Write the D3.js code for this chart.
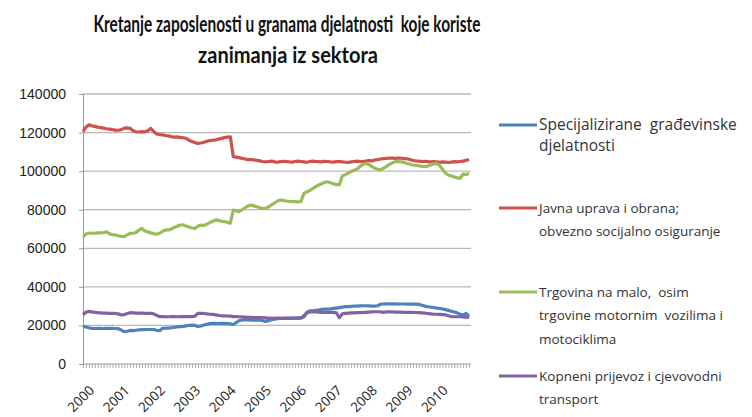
<!DOCTYPE html>
<html>
<head>
<meta charset="utf-8">
<script src="https://cdn.jsdelivr.net/npm/d3@7.9.0/dist/d3.min.js"></script>
<style>
  body { margin: 0; background: #fff; }
  svg { display: block; font-family: "Open Sans", sans-serif; }
</style>
</head>
<body>
<svg width="752" height="417"></svg>
<script>
// monthly values, Jan 2000 - Dec 2010, in thousands of employees
const years = ["2000", "2001", "2002", "2003", "2004", "2005", "2006", "2007", "2008", "2009", "2010"];
const yTicks = [0, 20000, 40000, 60000, 80000, 100000, 120000, 140000];

const specijalizirane = [
  19.5,19.2,18.8,18.5,18.4,18.5,18.5,18.4,18.5,18.5,18.5,18.4,
  18.3,17.6,16.8,17.0,17.4,17.3,17.5,17.7,17.8,17.8,17.9,17.9,
  17.9,17.5,17.3,18.5,18.6,18.6,18.8,19.0,19.3,19.4,19.5,19.8,
  20.0,20.2,20.0,19.5,19.7,20.2,20.6,21.0,21.1,21.1,21.0,21.1,
  21.1,21.0,20.8,20.5,21.5,22.5,22.8,23.0,22.9,22.8,22.8,22.7,
  22.8,22.4,22.0,22.5,23.0,23.3,23.5,23.6,23.7,23.7,23.7,23.8,
  23.8,23.8,23.9,25.0,26.8,27.5,27.6,27.8,28.0,28.3,28.5,28.5,
  28.6,28.8,29.0,29.2,29.5,29.7,29.8,29.9,30.0,30.0,30.1,30.2,
  30.2,30.1,30.0,30.0,30.2,31.0,31.1,31.2,31.2,31.2,31.2,31.1,
  31.1,31.1,31.0,31.0,31.0,31.0,30.9,30.5,30.0,29.7,29.5,29.3,
  29.0,28.8,28.5,28.2,27.8,27.3,27.0,26.5,25.8,25.4,26.3,24.6
];
const javnaUprava = [
  120.5,122.8,124.0,123.5,123.2,122.8,122.6,122.3,122.0,121.8,121.5,121.3,
  121.2,121.5,122.3,122.4,122.2,121.0,120.4,120.3,120.5,120.4,121.0,122.2,
  120.5,119.3,119.0,118.8,118.5,118.3,117.9,117.6,117.8,117.5,117.3,117.0,
  116.0,115.3,114.8,114.4,114.6,115.0,115.5,115.8,116.0,116.2,116.6,117.0,
  117.4,117.6,117.8,107.6,107.3,107.0,106.6,106.3,106.0,106.0,105.8,105.6,
  105.3,105.0,104.8,105.0,105.2,104.8,104.6,104.9,105.1,105.0,104.8,104.7,
  105.0,105.2,105.0,104.8,104.6,105.0,105.2,105.0,104.9,104.8,105.1,105.0,
  104.8,104.7,104.9,105.0,104.8,104.6,104.5,104.8,105.0,105.2,105.0,104.9,
  105.2,105.5,105.3,105.8,106.0,106.3,106.5,106.6,106.8,106.7,106.6,106.8,
  106.7,106.5,106.4,106.0,105.5,105.3,105.2,105.0,105.1,104.9,104.8,105.0,
  104.8,104.6,104.8,104.7,104.5,104.7,104.9,104.8,105.0,105.2,105.6,106.0
];
const trgovina = [
  65.8,67.4,67.8,67.9,67.8,68.0,68.0,68.2,68.5,67.5,67.0,67.0,
  66.5,66.2,66.0,67.0,67.7,67.8,68.2,69.5,70.3,69.0,68.5,68.0,
  67.6,67.3,67.8,68.8,69.5,69.5,70.0,70.8,71.5,72.0,72.2,71.5,
  71.0,70.5,70.3,71.5,72.0,71.8,72.5,73.3,74.0,74.7,74.5,74.0,
  73.8,73.5,73.0,79.8,79.5,79.0,80.0,81.0,82.0,82.4,82.0,81.5,
  81.0,80.7,80.8,81.5,82.5,83.5,84.5,85.0,84.8,84.5,84.3,84.2,
  84.2,84.0,84.3,88.5,89.3,90.0,91.0,92.0,92.8,93.5,94.2,94.5,
  94.0,93.5,93.0,93.0,97.5,98.2,99.0,99.8,100.5,101.0,102.5,103.5,
  104.0,103.5,102.5,101.5,101.0,100.8,101.5,102.5,103.5,104.3,104.9,105.0,
  104.8,104.5,104.0,103.6,103.2,103.0,102.8,102.5,102.3,102.6,103.2,103.8,
  104.0,103.0,101.0,99.0,98.0,97.5,97.0,96.5,96.3,98.5,98.2,98.8
];
const kopneni = [
  25.5,26.8,27.3,27.0,26.8,26.6,26.5,26.4,26.4,26.3,26.3,26.2,
  26.0,25.4,25.6,26.2,26.6,26.5,26.4,26.4,26.4,26.3,26.3,26.3,
  26.0,25.2,24.6,24.6,24.5,24.5,24.6,24.6,24.5,24.6,24.6,24.6,
  24.6,24.6,24.8,26.3,26.3,26.2,26.0,25.8,25.7,25.5,25.2,25.0,
  25.0,24.9,24.8,24.6,24.6,24.5,24.4,24.3,24.2,24.2,24.1,24.1,
  24.1,24.0,23.9,23.8,23.8,23.7,23.8,23.8,23.7,23.8,23.8,23.7,
  23.8,23.8,23.9,24.5,26.5,27.0,27.1,27.0,26.9,26.8,26.8,26.8,
  26.8,26.8,26.5,24.0,26.0,26.3,26.4,26.5,26.5,26.6,26.6,26.7,
  26.8,26.9,27.0,27.1,27.1,27.0,26.8,27.0,27.1,27.0,26.9,26.9,
  26.9,26.8,26.8,26.8,26.8,26.7,26.6,26.5,26.4,26.2,26.0,25.8,
  25.8,25.7,25.6,25.5,25.0,24.6,24.5,24.5,24.5,24.4,24.3,24.1
];

const seriesNames = [
  ["Specijalizirane  građevinske", "djelatnosti"],
  ["Javna uprava i obrana;", "obvezno socijalno osiguranje"],
  ["Trgovina na malo,  osim", "trgovine motornim  vozilima i", "motociklima"],
  ["Kopneni prijevoz i cjevovodni", "transport"]
];
const seriesValues = [specijalizirane, javnaUprava, trgovina, kopneni];
const colors = ["#4f81bd", "#d0504c", "#9bbb59", "#8064a2"];

const svg = d3.select("svg");
const plotLeft = 83, plotRight = 471, plotTop = 94, plotBottom = 364;

// title
const title = svg.append("g")
  .attr("font-family", "Lato, sans-serif")
  .attr("font-weight", "bold")
  .attr("font-size", 22)
  .attr("fill", "#111")
  .attr("text-anchor", "middle");
title.append("text").attr("x", 287).attr("y", 32)
  .style("white-space", "pre")
  .attr("textLength", 387).attr("lengthAdjust", "spacingAndGlyphs")
  .text("Kretanje zaposlenosti u granama djelatnosti  koje koriste");
title.append("text").attr("x", 288).attr("y", 63)
  .attr("textLength", 180).attr("lengthAdjust", "spacingAndGlyphs")
  .text("zanimanja iz sektora");

let x = d3.scaleLinear().domain([0, 131]).range([plotLeft, plotRight - 2]);
let y = d3.scaleLinear().domain([0, 140000]).range([plotBottom, plotTop]);

// gridlines
svg.append("g")
  .selectAll("line")
  .data(yTicks.slice(1))
  .join("line")
  .attr("x1", plotLeft).attr("x2", plotRight)
  .attr("y1", d => y(d)).attr("y2", d => y(d))
  .attr("stroke", "#b8b8b8").attr("stroke-width", 1.3);

// y axis
let yAxis = svg.append("g")
  .attr("transform", `translate(${plotLeft},0)`)
  .call(d3.axisLeft(y).tickValues(yTicks).tickFormat(d => d).tickSize(4).tickPadding(13));
yAxis.select(".domain").attr("stroke", "#999");
yAxis.selectAll(".tick line").attr("stroke", "#999");
yAxis.selectAll("text").attr("font-size", 14).attr("fill", "#222");

// x axis, one tick per month
let xAxis = svg.append("g")
  .attr("transform", `translate(0,${plotBottom})`)
  .call(d3.axisBottom(x).tickValues(d3.range(0, 132)).tickFormat("").tickSize(4).tickSizeOuter(0));
xAxis.select(".domain").attr("stroke", "#999").attr("d", `M${plotLeft},0H${plotRight}`);
xAxis.selectAll(".tick line").attr("stroke", "#aaa");

svg.append("g")
  .selectAll("text")
  .data(years)
  .join("text")
  .attr("transform", (d, i) => `translate(${x(i * 12) + 5},${plotBottom + 20}) rotate(-45)`)
  .attr("text-anchor", "end")
  .attr("dy", "0.75em")
  .attr("font-size", 13.5)
  .attr("fill", "#222")
  .text(d => d);

// lines
let line = d3.line()
  .x((d, i) => x(i))
  .y(d => y(d * 1000));

seriesValues.forEach((vals, idx) => {
  svg.append("path")
    .datum(vals)
    .attr("d", line)
    .attr("fill", "none")
    .attr("stroke", colors[idx])
    .attr("stroke-width", 3.2)
    .attr("stroke-linejoin", "round");
});

// legend
const legendY = [125, 208, 292, 376];
seriesNames.forEach((lines, idx) => {
  let g = svg.append("g").attr("transform", `translate(499,${legendY[idx]})`);
  g.append("line")
    .attr("x1", 0).attr("x2", 38)
    .attr("stroke", colors[idx]).attr("stroke-width", 3.2);
  lines.forEach((t, j) => {
    g.append("text")
      .attr("x", 40)
      .attr("y", j * (idx === 0 ? 21 : 23.5))
      .attr("dy", "0.35em")
      .attr("font-size", idx === 0 ? 15.5 : 13.5)
      .attr("fill", "#333")
      .style("white-space", "pre")
      .text(t);
  });
});
</script>
</body>
</html>
